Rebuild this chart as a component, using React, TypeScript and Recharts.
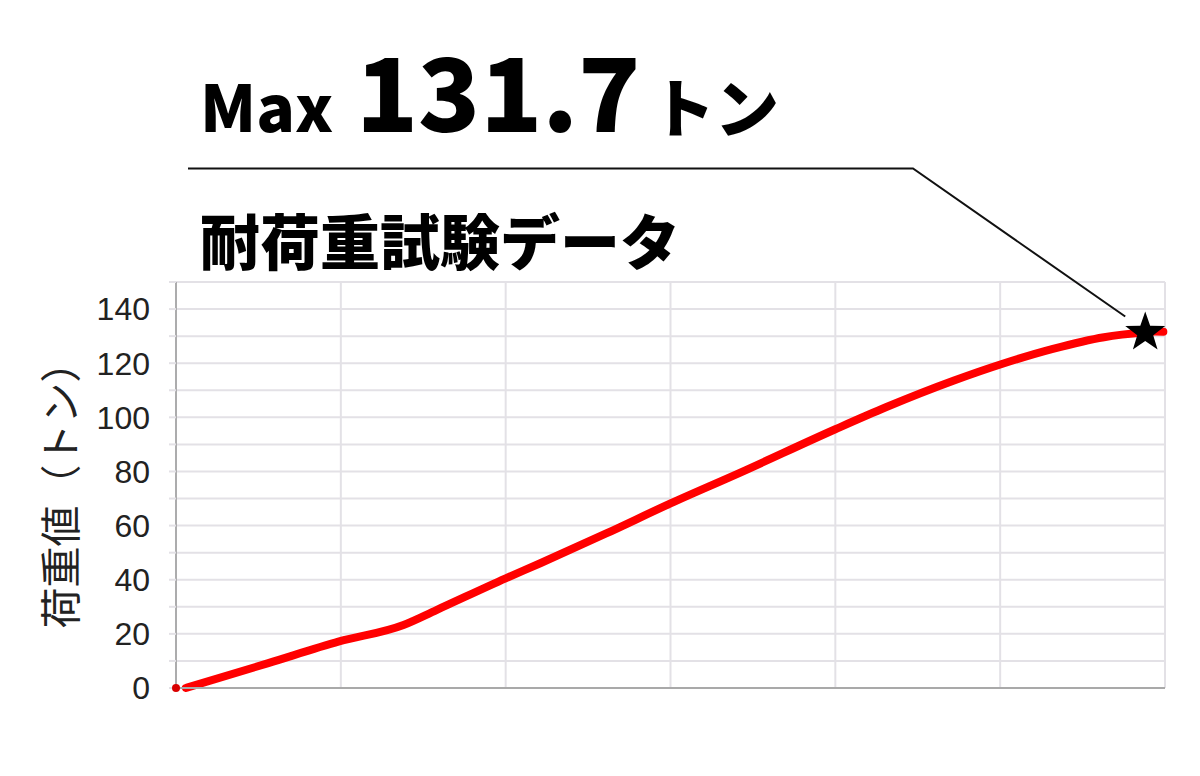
import React from 'react';
import {
  LineChart,
  Line,
  XAxis,
  YAxis,
  CartesianGrid,
  ReferenceDot,
} from 'recharts';

// 変位（目盛なし）と荷重値（トン）
const displacement = [0.6, 5.6, 9.9, 13.8, 15.8, 20, 22.1, 26.1, 30, 34.2, 40, 43.1, 47.2, 50.1, 53.2, 56.3, 58.8, 59.4, 59.9];
const loadTons = [0, 9.2, 17.2, 23.3, 28.8, 40.5, 46.1, 57.1, 68.2, 79.5, 95.6, 103.8, 113.6, 119.7, 125.3, 129.6, 131.4, 131.7, 131.6];

const X_GRID = [0, 10, 20, 30, 40, 50, 60];
const Y_GRID = [0, 10, 20, 30, 40, 50, 60, 70, 80, 90, 100, 110, 120, 130, 140, 150];
const Y_LABELED = [0, 20, 40, 60, 80, 100, 120, 140];

const MAX_X = 58.8;
const MAX_LOAD = 131.7;

const data = displacement.map((x, i) => ({ x, load: loadTons[i] }));

const JP_FONT = '"Noto Sans CJK JP", "Noto Sans", sans-serif';
const GRID = '#e3e1e6';

// 星マーカー + 見出しへの引き出し線
const StarCallout = (props: any) => {
  const { cx, cy } = props;
  const R = 21;
  const r = R * 0.4;
  const pts: string[] = [];
  for (let i = 0; i < 10; i++) {
    const rad = i % 2 === 0 ? R : r;
    const a = (Math.PI / 5) * i - Math.PI / 2;
    pts.push(`${cx + rad * Math.cos(a)},${cy + 1 + rad * Math.sin(a)}`);
  }
  return (
    <g>
      <polyline
        points={`${cx - 20},${cy - 15} 913,168.5 188,168.5`}
        fill="none"
        stroke="#111"
        strokeWidth={2}
      />
      <polygon points={pts.join(' ')} fill="#000" />
    </g>
  );
};

const YLabel = () => (
  <text
    x={58}
    y={485}
    transform="rotate(-90 58 485)"
    textAnchor="middle"
    dominantBaseline="central"
    fontFamily={JP_FONT}
    fontSize={41}
    fill="#222"
  >
    荷重値（トン）
  </text>
);

export default function App() {
  return (
    <div style={{ position: 'absolute', left: 0, top: 0, width: 1200, height: 776, background: '#fff' }}>
      <svg width={1200} height={776} style={{ position: 'absolute', left: 0, top: 0 }}>
        <text x={200} y={131.5} fontFamily={JP_FONT} fontWeight={900} fontSize={64} fill="#000">
          Max
        </text>
        <text x={356} y={131.5} fontFamily={JP_FONT} fontWeight={900} fontSize={102} fill="#000">
          {MAX_LOAD}
        </text>
        <text x={651} y={131.5} fontFamily={JP_FONT} fontWeight={900} fontSize={64} fill="#000">
          トン
        </text>
        <text x={200} y={265} fontFamily={JP_FONT} fontWeight={900} fontSize={60} fill="#000">
          耐荷重試験データ
        </text>
      </svg>
      <div style={{ position: 'absolute', left: 0, top: 0 }}>
        <LineChart
          width={1200}
          height={776}
          data={data}
          margin={{ top: 282, right: 35, bottom: 0, left: 0 }}
        >
          <CartesianGrid stroke={GRID} strokeWidth={2} horizontalValues={Y_GRID} />
          <XAxis
            dataKey="x"
            type="number"
            domain={[0, 60]}
            ticks={X_GRID}
            interval={0}
            tickFormatter={() => ''}
            tickLine={false}
            height={88}
            axisLine={{ stroke: '#a9a9a9', strokeWidth: 2 }}
          />
          <YAxis
            type="number"
            domain={[0, 150]}
            ticks={Y_GRID}
            interval={0}
            width={176}
            tickSize={7}
            tickMargin={19}
            tickLine={{ stroke: GRID, strokeWidth: 2 }}
            axisLine={{ stroke: '#9a9a9a', strokeWidth: 1.5 }}
            tickFormatter={(v: number) => (Y_LABELED.includes(v) ? String(v) : '')}
            tick={{ fill: '#222', fontSize: 32, fontFamily: '"Liberation Sans", Arial, sans-serif' }}
            label={<YLabel />}
          />
          <Line
            type="monotone"
            dataKey="load"
            stroke="#ff0000"
            strokeWidth={8}
            strokeLinecap="round"
            dot={false}
            activeDot={false}
            isAnimationActive={false}
          />
          <ReferenceDot x={0} y={0} r={4} fill="#d90000" stroke="none" />
          <ReferenceDot x={MAX_X} y={MAX_LOAD} shape={<StarCallout />} />
        </LineChart>
      </div>
    </div>
  );
}
